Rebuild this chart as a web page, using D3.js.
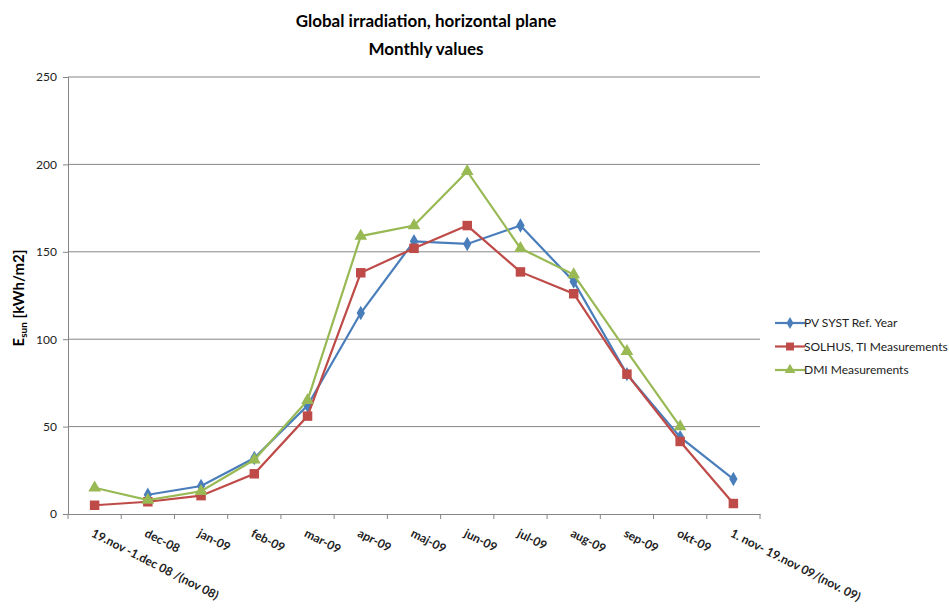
<!DOCTYPE html>
<html>
<head>
<meta charset="utf-8">
<script src="https://cdn.jsdelivr.net/npm/d3@7"></script>
<style>
  body { margin: 0; background: #fff; }
  text { font-family: Lato, "Open Sans", sans-serif; }
</style>
</head>
<body>
<svg id="chart" width="949" height="613"></svg>
<script>
const categories = ["19.nov -1.dec 08 /(nov 08)", "dec-08", "jan-09", "feb-09", "mar-09", "apr-09", "maj-09",
  "jun-09", "jul-09", "aug-09", "sep-09", "okt-09", "1. nov- 19.nov 09/(nov. 09)"];

const pvsyst = [null, 11, 16, 32, 62, 115, 156, 154.5, 165, 133, 80, 44, 20];
const solhus = [5, 7, 10.5, 23, 56, 138, 152, 165, 138.5, 126, 80, 41.5, 6];
const dmi = [15, 8, 13, 31, 65, 159, 165, 196, 152, 137, 93, 50, null];

const yTicks = [0, 50, 100, 150, 200, 250];

const series = [
  { name: "PV SYST Ref. Year", values: pvsyst, color: "#4a7ebb", symbol: d3.symbolDiamond, size: 60 },
  { name: "SOLHUS, TI Measurements", values: solhus, color: "#be4b48", symbol: d3.symbolSquare, size: 90 },
  { name: "DMI Measurements", values: dmi, color: "#98b954", symbol: d3.symbolTriangle, size: 70 }
];

const svg = d3.select("#chart");
const margin = { top: 77, left: 68 };
const width = 692, height = 437;
const g = svg.append("g").attr("transform", `translate(${margin.left},${margin.top})`);

const x = d3.scaleBand().domain(categories).range([0, width]);
const y = d3.scaleLinear().domain([0, 250]).range([height, 0]);

// gridlines
g.append("g")
  .selectAll("line")
  .data(yTicks.filter(d => d > 0))
  .join("line")
    .attr("x1", 0).attr("x2", width)
    .attr("y1", d => y(d)).attr("y2", d => y(d))
    .attr("stroke", "#868686").attr("stroke-width", 1);

// y axis
const yAxis = g.append("g")
  .call(d3.axisLeft(y).tickValues(yTicks).tickSize(5).tickPadding(6));
yAxis.select(".domain").attr("stroke", "#868686");
yAxis.selectAll(".tick line").attr("stroke", "#868686");
yAxis.selectAll("text").style("font-size", "12px").attr("fill", "#222");

// x axis
const xAxis = g.append("g")
  .attr("transform", `translate(0,${height})`)
  .call(d3.axisBottom(x).tickSize(0).tickFormat(""));
xAxis.select(".domain").attr("stroke", "#868686");

// x tick marks on band edges
g.append("g")
  .selectAll("line")
  .data(categories.concat(["_end"]))
  .join("line")
    .attr("x1", (d, i) => i * x.step()).attr("x2", (d, i) => i * x.step())
    .attr("y1", height).attr("y2", height + 5)
    .attr("stroke", "#868686");

// x labels
g.append("g")
  .selectAll("text")
  .data(categories)
  .join("text")
    .attr("transform", d => `translate(${x(d) + x.bandwidth() / 2 - 4},${height + 22}) rotate(27)`)
    .attr("text-anchor", "start")
    .style("font-size", "12px")
    .style("font-weight", "bold")
    .attr("fill", "#222")
    .text(d => d);

// lines and markers
series.forEach(s => {
  const pts = s.values.map((v, i) => ({ cat: categories[i], v })).filter(d => d.v !== null);
  const line = d3.line()
    .x(d => x(d.cat) + x.bandwidth() / 2)
    .y(d => y(d.v));
  g.append("path")
    .datum(pts)
    .attr("d", line)
    .attr("fill", "none")
    .attr("stroke", s.color)
    .attr("stroke-width", 2.2);
  g.append("g")
    .selectAll("path")
    .data(pts)
    .join("path")
      .attr("d", d3.symbol().type(s.symbol).size(s.size))
      .attr("transform", d => `translate(${x(d.cat) + x.bandwidth() / 2},${y(d.v)})`)
      .attr("fill", s.color);
});

// title
svg.append("text")
  .attr("x", 426).attr("y", 27)
  .attr("text-anchor", "middle")
  .style("font-size", "17px").style("font-weight", "bold")
  .text("Global irradiation, horizontal plane");
svg.append("text")
  .attr("x", 426).attr("y", 55)
  .attr("text-anchor", "middle")
  .style("font-size", "17px").style("font-weight", "bold")
  .text("Monthly values");

// y label
const yl = svg.append("text")
  .attr("transform", "translate(24,298) rotate(-90)")
  .attr("text-anchor", "middle")
  .style("font-size", "15px").style("font-weight", "bold");
yl.append("tspan").text("E");
yl.append("tspan").text("sun").attr("dy", 3).style("font-size", "10px");
yl.append("tspan").text(" [kWh/m2]").attr("dy", -3);

// legend
const legend = svg.append("g").attr("transform", "translate(775,323)");
series.forEach((s, i) => {
  const row = legend.append("g").attr("transform", `translate(0,${i * 23.5})`);
  row.append("line").attr("x1", 0).attr("x2", 30).attr("stroke", s.color).attr("stroke-width", 2.2);
  row.append("path")
    .attr("d", d3.symbol().type(s.symbol).size(s.size * 0.7))
    .attr("transform", "translate(15,0)")
    .attr("fill", s.color);
  row.append("text")
    .attr("x", 29).attr("y", 4)
    .style("font-size", "12px")
    .attr("fill", "#222")
    .text(s.name);
});
</script>
</body>
</html>
